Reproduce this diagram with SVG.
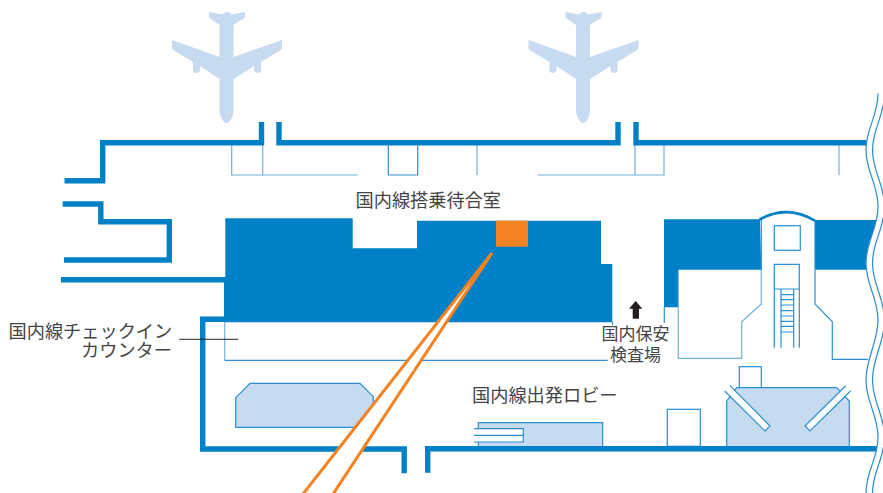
<svg xmlns="http://www.w3.org/2000/svg" width="883" height="493" viewBox="0 0 883 493">
<style>
.wall{fill:none;stroke:#0080c6;stroke-width:5.4}
.solid{fill:#0080c6}
.thin{fill:none;stroke:#2a90d2;stroke-width:1.2}
.pale{fill:none;stroke:#6eb2e0;stroke-width:1.2}
.lt{fill:#c6daf0;stroke:#2a90d2;stroke-width:1.2}
.or{fill:none;stroke:#f58220;stroke-width:3}
.wave{fill:none;stroke:#2a8cd0;stroke-width:1.2}
.plane{fill:#c6daf0}
text{font-family:"Noto Sans CJK JP","Noto Sans",sans-serif;font-size:18.2px;fill:#444}
</style>
<defs>
<path id="pl" d="M227,12 C225,12 223.5,13 222.7,14.5 L209,12 V17.5 L219.5,25 V57 L172,40 V47 C172,49 173,50 175,51 L193,62 V70 C193,72 195,73 196.5,73 C198,73 200,72 200,70 V66 L219.5,79 V110 C219.5,116 223,123 226.500,123 C230,123 233.500,116 233.500,110 V79 L254,66 V70 C254,72 256,73 257.500,73 C259,73 261,72 261,70 V62 L279,51 C281,50 282,49 282,47 V40 L233.500,57 V25 L245,17.5 V12 L231.300,14.500 C230.500,13 229,12 227,12 Z"/>
</defs>
<g id="plane-1"><use href="#pl" class="plane"/></g>
<g id="plane-2"><use href="#pl" class="plane" x="356.5"/></g>

<g id="blue-masses">
<path class="solid" d="M225.300,218.300 H352.700 V248.300 H417 V220.700 H601 V264 H612.300 V322.300 H224 V277 H225.300 Z"/>
<path class="solid" d="M664,219.300 H761.300 V269.700 H678.300 V307.300 H664 Z"/>
<path class="solid" d="M815,220 H885 V269.700 H815 Z"/>
</g>

<g id="thin-lines">
<path class="pale" d="M231.700,145 V175 H357.700 M262.700,145 V175"/>
<path class="thin" d="M388.300,145 V175 H417.700 V145"/>
<path class="pale" d="M477,145 V175"/>
<path class="pale" d="M537.700,175 H664 V145 M635,145 V175"/>
<path class="pale" d="M839,145 V175"/>
<path class="pale" d="M224.700,322 V360.300"/>
<path class="thin" d="M224.700,360.300 H607.700"/>
<path class="thin" d="M664.300,307 V323"/>
<path class="thin" d="M612.500,322 V325"/>
<path class="pale" d="M678.300,270 V358.300 H741.700 V321.700 L761.300,304 V270"/>
<path class="thin" d="M815,270 V304 L832.300,321.700 V359.300 H868"/>
</g>

<g id="tower">
<path d="M760,220 Q787.500,204 815,221 V270 H761.300 Z" fill="#fff"/>
<path d="M759.500,219.500 Q787.500,204 815.500,221" fill="none" stroke="#0080c6" stroke-width="2.600"/>
<path class="thin" d="M761.300,220 V270 M815,221 V270"/>
<rect class="thin" x="774.300" y="225.700" width="26" height="24.600"/>
<path class="thin" d="M774.300,347.700 V264.300 H799.300 V347.700 M774.300,289 H799.300 M781,289 V347.700 M793.700,289 V347.700"/>
<path class="thin" d="M781,294.700 H793.700 M781,299.700 H793.700 M781,305 H793.700 M781,310.700 H793.700 M781,316 H793.700 M781,321.300 H793.700 M781,326.300 H793.700 M781,332 H793.700"/>
</g>

<g id="check-in-counter">
<path class="lt" d="M235.700,427.300 V397.700 L250,383.300 H360 L373.300,396.700 V427.300 Z"/>
</g>

<g id="lobby-counter">
<path class="lt" d="M478.300,447 V422.700 H602.700 V447"/>
<path d="M474,428.700 H523.300 V442 H474 Z" fill="#fff" stroke="none"/>
<path class="thin" d="M474,428.700 H523.300 V442 H474 M474,435.300 H523.300"/>
</g>

<g id="gate-island">
<rect class="thin" x="739.300" y="366.700" width="22" height="21"/>
<rect class="thin" x="667.300" y="409.300" width="33" height="37"/>
<path class="lt" d="M726.700,447 V401 L736.700,387.700 H836.700 L849.300,401 V447"/>
<path d="M724.700,391 L730,385.700 L770,426 L765,431 Z M850.700,390.700 L845.700,385.700 L805,426 L810,431 Z" fill="#fff"/>
<path class="thin" d="M724.700,391 L765,431 L770,426 L730,385.700 M850.700,390.700 L810,431 L805,426 L845.700,385.700"/>
</g>

<g id="connectors">
<path class="wall" d="M64.500,180.800 H102.700 V142.800 H261.500 V122"/>
<path class="wall" d="M279,122 V142.800 H618 V122"/>
<path class="wall" d="M636,122 V142.800 H870"/>
<path class="wall" d="M62.700,204 H100.800 V221.800 H169.300 V260 H64"/>
<path class="wall" d="M61,279.800 H225"/>
<path class="wall" d="M224,319.300 H202.700 V449 H404.200 V473.300"/>
<path class="wall" d="M427.700,472.700 V448.700 H880"/>
<path d="M492,253 L303,493 H333 Z" fill="#fff"/>
<path class="or" d="M492,253 L303,494 M492,253 L333,494"/>
<path d="M179.300,339.300 H238.300" fill="none" stroke="#222" stroke-width="1"/>
</g>

<g id="gate-orange"><rect x="496" y="220.700" width="32" height="26" fill="#f58220"/></g>

<g id="arrow"><path d="M635.700,301 L642.300,308.700 H639 V318.700 H632.700 V308.700 H629 Z" fill="#231f20"/></g>

<g id="cut-edge">
<path d="M878,93.500 C878,116 866,128 866,150 C866,172 878,184 878,206.500 C878,229 866,241 866,263 C866,285 878,298 878,320 C878,342 866,358 866,380 C866,402 878,415 878,437 C878,459 866,471 866,493 H890 V93.500 Z" fill="#fff"/>
<path class="wave" d="M878,93.500 C878,116 866,128 866,150 C866,172 878,184 878,206.500 C878,229 866,241 866,263 C866,285 878,298 878,320 C878,342 866,358 866,380 C866,402 878,415 878,437 C878,459 866,471 866,493"/>
<path class="wave" d="M884.500,93.500 C884.500,116 872.500,128 872.500,150 C872.500,172 884.500,184 884.500,206.500 C884.500,229 872.500,241 872.500,263 C872.500,285 884.500,298 884.500,320 C884.500,342 872.500,358 872.500,380 C872.500,402 884.500,415 884.500,437 C884.500,459 872.500,471 872.500,493"/>
</g>

<g id="labels">
<text x="355.500" y="207">国内線搭乗待合室</text>
<text x="8.500" y="338">国内線チェックイン</text>
<text x="172" y="357" text-anchor="end">カウンター</text>
<text x="635.500" y="340" text-anchor="middle" style="font-size:17px">国内保安</text>
<text x="635.500" y="361" text-anchor="middle" style="font-size:17px">検査場</text>
<text x="472" y="402">国内線出発ロビー</text>
</g>
</svg>
